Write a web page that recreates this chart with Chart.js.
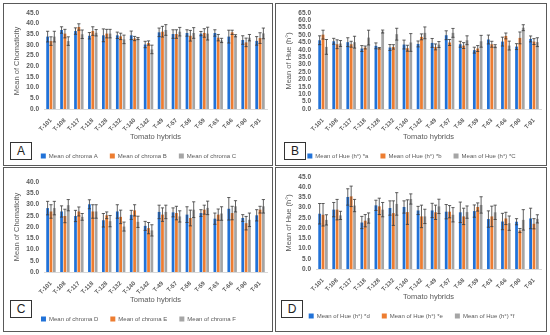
<!DOCTYPE html>
<html>
<head>
<meta charset="utf-8">
<script src="https://cdn.jsdelivr.net/npm/chart.js@4.4.1/dist/chart.umd.min.js"></script>
<style>
  body { margin: 0; background: #fff; }
  #fig { position: relative; width: 550px; height: 335px; }
  .panel { position: absolute; border: 1.5px solid #595959; box-sizing: border-box; background: #fff; }
  .panel canvas { position: absolute; left: 0; top: 0; }
  .tag { position: absolute; width: 22px; height: 18px; border: 1px solid #333; box-sizing: border-box;
         font: 12px "Liberation Sans", sans-serif; color: #222; text-align: center; line-height: 17px; background: #fff; }
</style>
</head>
<body>
<div id="fig">
  <div class="panel" style="left:3px;top:3px;width:270px;height:163px"><canvas id="chartA"></canvas><div class="tag" style="left:6px;top:138px">A</div></div>
  <div class="panel" style="left:275px;top:3px;width:272px;height:163px"><canvas id="chartB"></canvas><div class="tag" style="left:8px;top:138px">B</div></div>
  <div class="panel" style="left:3px;top:167px;width:270px;height:165px"><canvas id="chartC"></canvas><div class="tag" style="left:6px;top:132px">C</div></div>
  <div class="panel" style="left:275px;top:167px;width:272px;height:165px"><canvas id="chartD"></canvas><div class="tag" style="left:5px;top:132px">D</div></div>
</div>
<script>
const hybrids = ['T-101', 'T-108', 'T-117', 'T-118', 'T-128', 'T-132', 'T-140', 'T-142',
                 'T-49', 'T-57', 'T-58', 'T-59', 'T-63', 'T-66', 'T-90', 'T-91'];

// panel A - chroma
const chromaA = [33.9, 37.0, 36.5, 34.3, 34.5, 34.5, 34.5, 30.2, 35.9, 35.1, 35.6, 35.3, 35.6, 33.9, 32.3, 31.9];
const chromaErrA = [2.5, 1.5, 1.5, 1.5, 3, 1.5, 2, 1.5, 2, 2, 1.5, 1, 1.5, 3, 2, 2];
const chromaB = [31.8, 35.3, 38.4, 36.5, 35.3, 34.0, 33.0, 30.9, 36.2, 35.1, 34.3, 35.6, 33.4, 35.9, 31.2, 33.2];
const chromaErrB = [2, 2, 1.5, 2, 2, 1.5, 1, 1, 2.5, 2, 2.5, 2, 1.5, 1, 2, 2.5];
const chromaC = [33.9, 31.8, 35.0, 35.7, 35.3, 32.6, 33.0, 27.9, 37.0, 36.2, 35.6, 35.3, 32.1, 34.3, 33.4, 35.4];
const chromaErrC = [2.5, 2, 2, 1.5, 2, 2, 0.5, 2, 2.5, 2, 2.5, 3, 1, 0.5, 1.5, 2.5];

// panel B - hue
const hueA = [46.5, 45.8, 45.2, 40.9, 42.7, 41.6, 43.6, 44.0, 44.7, 49.9, 43.8, 39.8, 47.0, 45.6, 42.2, 47.4];
const hueErrA = [3, 2, 3, 2, 2, 2, 3, 2, 3, 3, 2, 2, 3, 3, 2, 2];
const hueB = [50.3, 43.8, 43.8, 41.6, 41.1, 42.0, 41.1, 48.8, 42.0, 45.0, 42.9, 40.9, 43.8, 49.4, 48.1, 45.6];
const hueErrB = [3, 3, 2, 1, 0.5, 1.5, 2, 2, 2, 2, 2, 2, 2, 2, 4, 2];
const hueC = [42.0, 44.3, 45.2, 48.3, 52.4, 50.6, 45.0, 51.5, 43.6, 51.5, 46.5, 45.8, 42.5, 42.9, 55.0, 45.2];
const hueErrC = [5, 2, 4, 5, 1, 4, 6, 4, 2, 3, 3, 4, 1, 3, 2, 3];

// panel C - chroma
const chromaD = [28.4, 26.9, 24.9, 30.1, 23.0, 26.9, 25.4, 20.5, 26.7, 26.5, 25.5, 26.2, 23.7, 28.1, 24.0, 25.2];
const chromaErrD = [3, 2.5, 2.5, 2, 3, 3, 2, 2, 3, 2, 3.5, 1.5, 2.5, 5, 1.5, 2.5];
const chromaE = [26.9, 24.9, 26.9, 26.9, 25.2, 24.5, 27.4, 19.5, 25.5, 26.2, 24.0, 27.7, 25.5, 26.2, 21.7, 27.7];
const chromaErrE = [3, 3, 2, 3, 1.5, 3, 2.5, 2.5, 3, 3, 3.5, 2, 2.5, 3, 3, 1.5];
const chromaF = [28.4, 29.7, 24.5, 26.9, 22.6, 20.2, 22.3, 18.5, 26.7, 24.7, 27.7, 28.5, 26.0, 29.2, 23.2, 29.2];
const chromaErrF = [3, 2.5, 1.5, 3, 2.5, 2, 2.5, 2.5, 3, 2.5, 3.5, 3, 3, 2.5, 3, 3];

// panel D - hue
const hueD = [27.0, 29.0, 35.2, 22.7, 31.1, 29.8, 30.3, 28.6, 28.6, 28.0, 27.7, 28.3, 24.4, 23.2, 23.1, 24.7];
const hueErrD = [5, 3.5, 4, 3, 2.5, 3.5, 3, 2, 3.5, 3.5, 5, 3, 4, 4, 1.5, 5];
const hueE = [26.5, 29.0, 35.5, 23.6, 30.6, 27.3, 27.8, 25.7, 27.7, 28.0, 25.7, 30.3, 25.7, 24.7, 18.8, 22.1];
const hueErrE = [5.5, 5, 5, 3, 4, 6, 6, 5.5, 3.5, 3, 4, 2, 5, 3, 1, 2.5];
const hueF = [24.0, 26.2, 31.0, 24.9, 29.0, 31.8, 34.2, 25.7, 30.6, 26.5, 27.8, 31.3, 27.7, 22.4, 24.0, 24.5];
const hueErrF = [2.5, 2, 3, 2.5, 3.5, 5.5, 2.5, 3.5, 3.5, 3.5, 3, 4, 3.5, 3.5, 5, 2];

const colors = ['#2172d8', '#ed7d31', '#a5a5a5'];
const textColor = '#595959';
const fontFamily = '"Liberation Sans", Arial, sans-serif';

// chart.js has no error bars, so draw them after the bars
const errorBars = {
    id: 'errorBars',
    afterDatasetsDraw(chart) {
        const ctx = chart.ctx;
        const y = chart.scales.y;
        ctx.save();
        ctx.strokeStyle = '#3a3a3a';
        ctx.lineWidth = 0.8;
        chart.data.datasets.forEach((ds, i) => {
            chart.getDatasetMeta(i).data.forEach((bar, j) => {
                const top = y.getPixelForValue(ds.data[j] + ds.errors[j]);
                const bot = y.getPixelForValue(ds.data[j] - ds.errors[j]);
                ctx.beginPath();
                ctx.moveTo(bar.x, top); ctx.lineTo(bar.x, bot);
                ctx.moveTo(bar.x - 1.6, top); ctx.lineTo(bar.x + 1.6, top);
                ctx.moveTo(bar.x - 1.6, bot); ctx.lineTo(bar.x + 1.6, bot);
                ctx.stroke();
            });
        });
        ctx.restore();
    }
};

// the legend box is taller than in the original, trim it
const legendTrim = {
    id: 'legendTrim',
    beforeInit(chart) {
        const fit = chart.legend.fit;
        chart.legend.fit = function () {
            fit.bind(chart.legend)();
            this.height -= 6;
        };
    }
};

const makeChart = (id, width, height, yMax, yTitle, series, padding) => {
    const canvas = document.getElementById(id);
    canvas.width = width;
    canvas.height = height;
    const datasets = series.map((s, i) => ({
        label: s.label,
        data: s.data,
        errors: s.errors,
        backgroundColor: colors[i],
        categoryPercentage: 0.72,
        barPercentage: 0.82
    }));

    return new Chart(canvas, {
        type: 'bar',
        data: { labels: hybrids, datasets: datasets },
        plugins: [errorBars, legendTrim],
        options: {
            responsive: false,
            animation: false,
            layout: { padding: padding },
            plugins: {
                tooltip: { enabled: false },
                legend: {
                    position: 'bottom',
                    labels: {
                        boxWidth: 5, boxHeight: 5, padding: 12,
                        color: textColor,
                        font: { family: fontFamily, size: 6 }
                    }
                }
            },
            scales: {
                x: {
                    grid: { display: false },
                    border: { color: '#d9d9d9' },
                    afterFit: scale => { scale.height = 32; },
                    ticks: {
                        autoSkip: false,
                        minRotation: 45, maxRotation: 45, padding: 0,
                        color: textColor,
                        font: { family: fontFamily, size: 6, weight: 'bold' }
                    },
                    title: {
                        display: true, text: 'Tomato hybrids', color: textColor, padding: 0,
                        font: { family: fontFamily, size: 7.5 }
                    }
                },
                y: {
                    min: 0, max: yMax,
                    grid: { display: false, drawTicks: false },
                    border: { display: false },
                    afterFit: scale => { scale.width = 34; },
                    ticks: {
                        autoSkip: false,
                        stepSize: 5, padding: 5,
                        color: textColor,
                        font: { family: fontFamily, size: 6.5, weight: 'bold' },
                        callback: v => v.toFixed(1)
                    },
                    title: {
                        display: true, text: yTitle, color: textColor, padding: 2,
                        font: { family: fontFamily, size: 7.5 }
                    }
                }
            }
        }
    });
};

makeChart('chartA', 267, 160, 45, 'Mean of Chomaticity', [
    { label: 'Mean of chroma A', data: chromaA, errors: chromaErrA },
    { label: 'Mean of chroma B', data: chromaB, errors: chromaErrB },
    { label: 'Mean of chroma C', data: chromaC, errors: chromaErrC }
], { top: 8, right: 4, left: 6, bottom: 1 });

makeChart('chartB', 269, 160, 65, 'Mean of Hue (h°)', [
    { label: 'Mean of Hue (h°) *a', data: hueA, errors: hueErrA },
    { label: 'Mean of Hue (h°) *b', data: hueB, errors: hueErrB },
    { label: 'Mean of Hue (h°) *C', data: hueC, errors: hueErrC }
], { top: 8, right: 4, left: 6, bottom: 1 });

makeChart('chartC', 267, 162, 40, 'Mean of Chomaticity', [
    { label: 'Mean of chroma D', data: chromaD, errors: chromaErrD },
    { label: 'Mean of chroma E', data: chromaE, errors: chromaErrE },
    { label: 'Mean of chroma F', data: chromaF, errors: chromaErrF }
], { top: 14, right: 4, left: 6, bottom: 4 });

makeChart('chartD', 269, 162, 45, 'Mean of Hue (h°)', [
    { label: 'Mean of Hue (h°) *d', data: hueD, errors: hueErrD },
    { label: 'Mean of Hue (h°) *e', data: hueE, errors: hueErrE },
    { label: 'Mean of Hue (h°) *f', data: hueF, errors: hueErrF }
], { top: 7, right: 4, left: 6, bottom: 7 });
</script>
</body>
</html>
